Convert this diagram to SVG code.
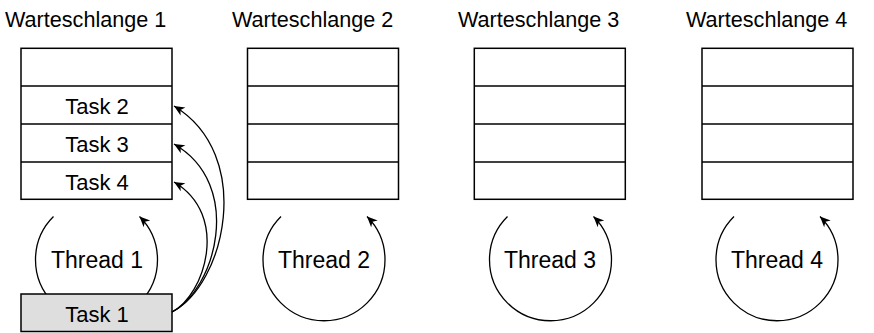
<svg xmlns="http://www.w3.org/2000/svg" width="874" height="333" viewBox="0 0 874 333">
  <style>
    text { font-family: "Liberation Sans", Arial, Helvetica, sans-serif; fill: #000; }
    .title { font-size: 21.6px; }
    .task { font-size: 22px; text-anchor: middle; }
    .thread { font-size: 23px; text-anchor: middle; }
    .queue rect { fill: #fff; stroke: #000; stroke-width: 1.5; }
    .queue line { stroke: #000; stroke-width: 1.6; }
    .loop, .move { fill: none; stroke: #000; stroke-width: 1.3; }
    .current { fill: #dedede; stroke: #000; stroke-width: 1.5; }
  </style>
  <defs>
    <marker id="head" markerUnits="userSpaceOnUse" markerWidth="14" markerHeight="14" viewBox="-10 -6 12 12" refX="0" refY="0" orient="auto">
      <path d="M0,0 L-9,-4 L-6.5,0 L-9,4 Z" fill="#000"/>
    </marker>
  </defs>

  <!-- queue titles -->
  <text class="title" x="5" y="26.5">Warteschlange 1</text>
  <text class="title" x="232" y="26.5">Warteschlange 2</text>
  <text class="title" x="458" y="26.5">Warteschlange 3</text>
  <text class="title" x="686" y="26.5">Warteschlange 4</text>

  <!-- thread loops -->
  <g id="connectors">
    <path class="loop" d="M53.5,216.5 A61,61 0 1 0 139.5,216.5" marker-end="url(#head)"/>
    <path class="loop" d="M281,216.5 A61,61 0 1 0 367,216.5" marker-end="url(#head)"/>
    <path class="loop" d="M507.5,216.5 A61,61 0 1 0 593.5,216.5" marker-end="url(#head)"/>
    <path class="loop" d="M734,216.5 A61,61 0 1 0 820,216.5" marker-end="url(#head)"/>
  </g>

  <g id="queue1" class="queue">
    <rect x="21" y="48.3" width="151" height="151"/>
    <line x1="21" y1="86" x2="172" y2="86"/>
    <line x1="21" y1="124" x2="172" y2="124"/>
    <line x1="21" y1="162" x2="172" y2="162"/>
    <text class="task" x="97" y="113.5">Task 2</text>
    <text class="task" x="97" y="151.5">Task 3</text>
    <text class="task" x="97" y="189.5">Task 4</text>
  </g>
  <g id="queue2" class="queue">
    <rect x="247.5" y="48.3" width="151" height="151"/>
    <line x1="247.5" y1="86" x2="398.5" y2="86"/>
    <line x1="247.5" y1="124" x2="398.5" y2="124"/>
    <line x1="247.5" y1="162" x2="398.5" y2="162"/>
  </g>
  <g id="queue3" class="queue">
    <rect x="474.3" y="48.3" width="151" height="151"/>
    <line x1="474.3" y1="86" x2="625.3" y2="86"/>
    <line x1="474.3" y1="124" x2="625.3" y2="124"/>
    <line x1="474.3" y1="162" x2="625.3" y2="162"/>
  </g>
  <g id="queue4" class="queue">
    <rect x="702" y="48.3" width="151" height="151"/>
    <line x1="702" y1="86" x2="853" y2="86"/>
    <line x1="702" y1="124" x2="853" y2="124"/>
    <line x1="702" y1="162" x2="853" y2="162"/>
  </g>

  <g id="thread1"><text class="thread" x="97" y="267.5">Thread 1</text></g>
  <g id="thread2"><text class="thread" x="324" y="267.5">Thread 2</text></g>
  <g id="thread3"><text class="thread" x="550" y="267.5">Thread 3</text></g>
  <g id="thread4"><text class="thread" x="777" y="267.5">Thread 4</text></g>

  <!-- task currently being executed -->
  <g id="task1">
    <rect class="current" x="21" y="294" width="151" height="37.5"/>
    <text class="task" x="97" y="321.5">Task 1</text>
  </g>

  <!-- tasks handed back to the queue -->
  <g id="moves">
    <path class="move" d="M172,312 C225,285 255,155 174,106" marker-end="url(#head)"/>
    <path class="move" d="M172,312 C215,290 245,185 174,144" marker-end="url(#head)"/>
    <path class="move" d="M172,312 C205,295 230,215 174,182" marker-end="url(#head)"/>
  </g>
</svg>
